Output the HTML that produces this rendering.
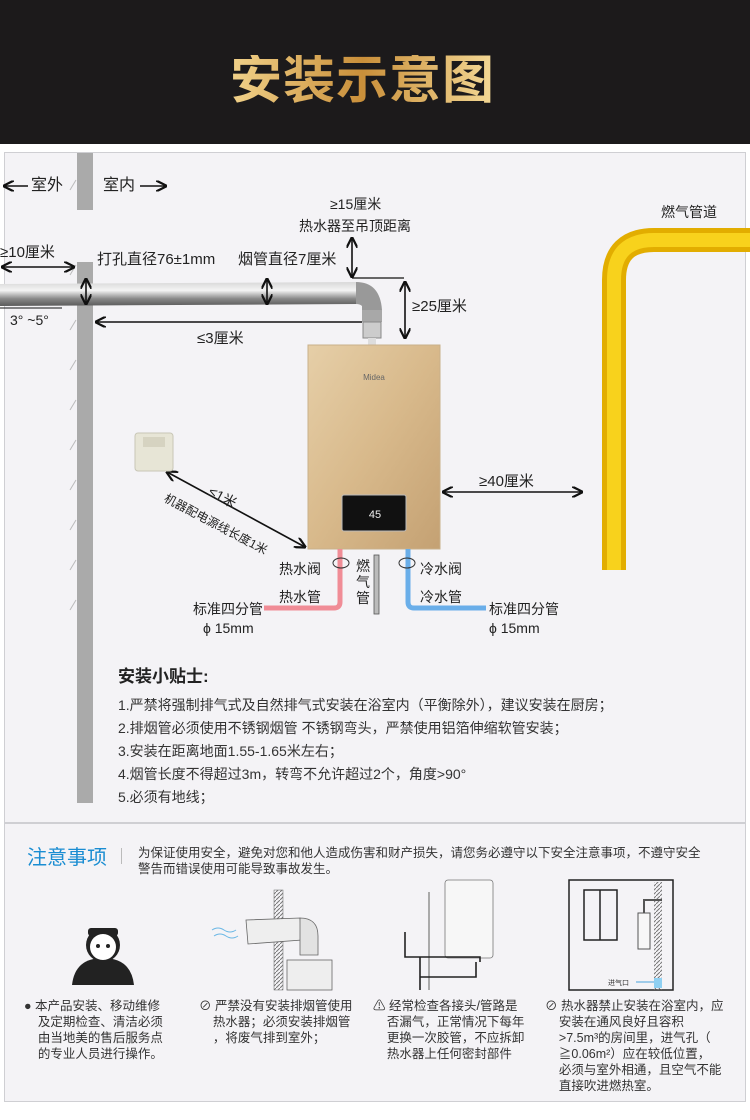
<!DOCTYPE html>
<html><head><meta charset="utf-8">
<style>
*{margin:0;padding:0;box-sizing:border-box}
body{width:750px;height:1120px;background:#fff;position:relative;overflow:hidden;font-family:"Liberation Sans","Noto Sans CJK SC",sans-serif;color:#222}
.t{position:absolute;white-space:nowrap;line-height:1}
</style></head><body>
<div style="position:absolute;left:0;top:0;width:750px;height:144px;background:#1c1a1b"></div>
<div class="t" style="left:230px;top:55px;font-size:52px;font-weight:bold;letter-spacing:1px;background:linear-gradient(90deg,#f1d28a,#c98f3a 50%,#f4d996);-webkit-background-clip:text;color:transparent">安装示意图</div>
<div style="position:absolute;left:4px;top:152px;width:742px;height:671px;background:#f4f3f6;border:1px solid #cfcfd3"></div>
<div style="position:absolute;left:4px;top:823px;width:742px;height:279px;background:#f4f3f6;border:1px solid #cfcfd3"></div>

<svg style="position:absolute;left:0;top:0" width="750" height="1120">
<defs>
<linearGradient id="pipe" x1="0" y1="0" x2="0" y2="1"><stop offset="0" stop-color="#d8d8d8"/><stop offset=".35" stop-color="#f4f4f4"/><stop offset=".7" stop-color="#888"/><stop offset="1" stop-color="#5a5a5a"/></linearGradient>
<linearGradient id="gold" x1="0" y1="0" x2="1" y2="1"><stop offset="0" stop-color="#e6cfa8"/><stop offset=".5" stop-color="#d8b98b"/><stop offset="1" stop-color="#c4a173"/></linearGradient>
<marker id="a" viewBox="0 0 10 10" refX="9" refY="5" markerWidth="7" markerHeight="7" orient="auto-start-reverse"><path d="M0,0L10,5L0,10" fill="none" stroke="#111" stroke-width="2"/></marker>
<pattern id="hatch" width="4" height="4" patternUnits="userSpaceOnUse"><path d="M0,4L4,0" stroke="#777" stroke-width="1"/></pattern>
</defs>
<rect x="77" y="153" width="16" height="57" fill="#aaa"/>
<rect x="77" y="262" width="16" height="22" fill="#aaa"/>
<rect x="77" y="304" width="16" height="499" fill="#aaa"/>
<g stroke="#bbb" stroke-width="1">
<line x1="70" y1="190" x2="76" y2="180"/><line x1="70" y1="275" x2="76" y2="265"/><line x1="70" y1="330" x2="76" y2="320"/><line x1="70" y1="370" x2="76" y2="360"/><line x1="70" y1="410" x2="76" y2="400"/><line x1="70" y1="450" x2="76" y2="440"/><line x1="70" y1="490" x2="76" y2="480"/><line x1="70" y1="530" x2="76" y2="520"/><line x1="70" y1="570" x2="76" y2="560"/><line x1="70" y1="610" x2="76" y2="600"/>
</g>
<path d="M0,284 L358,282 L358,304 L0,306Z" fill="url(#pipe)"/>
<path d="M356,282 Q380,282 382,310 L382,322 L362,322 L362,306 Q360,304 356,304Z" fill="#999"/>
<rect x="362" y="310" width="20" height="12" fill="#a8a8a8"/>
<rect x="363" y="322" width="18" height="16" fill="#ccc" stroke="#888"/>
<rect x="368" y="338" width="8" height="8" fill="#ddd"/>
<line x1="0" y1="308" x2="62" y2="308" stroke="#111"/>
<g stroke="#111" stroke-width="1.6" fill="none">
<line x1="4" y1="186" x2="28" y2="186" marker-start="url(#a)"/>
<line x1="140" y1="186" x2="166" y2="186" marker-end="url(#a)"/>
<line x1="2" y1="267" x2="74" y2="267" marker-start="url(#a)" marker-end="url(#a)"/>
<line x1="86" y1="279" x2="86" y2="304" marker-start="url(#a)" marker-end="url(#a)"/>
<line x1="267" y1="279" x2="267" y2="304" marker-start="url(#a)" marker-end="url(#a)"/>
<line x1="352" y1="238" x2="352" y2="277" marker-start="url(#a)" marker-end="url(#a)"/>
<line x1="405" y1="282" x2="405" y2="338" marker-start="url(#a)" marker-end="url(#a)"/>
<line x1="96" y1="322" x2="362" y2="322" marker-start="url(#a)"/>
<line x1="443" y1="492" x2="582" y2="492" marker-start="url(#a)" marker-end="url(#a)"/>
<line x1="167" y1="472" x2="305" y2="547" marker-start="url(#a)" marker-end="url(#a)"/>
</g>
<line x1="352" y1="278" x2="404" y2="278" stroke="#111" stroke-width="1.2"/>
<rect x="308" y="345" width="132" height="204" fill="url(#gold)" stroke="#c9b08a"/>
<text x="374" y="380" font-size="8" fill="#666" text-anchor="middle" font-family="Liberation Sans">Midea</text>
<rect x="342" y="495" width="64" height="36" rx="2" fill="#111" stroke="#bbb"/>
<text x="375" y="518" font-size="11" fill="#eee" text-anchor="middle">45</text>
<rect x="135" y="433" width="38" height="38" rx="3" fill="#e7e5d6" stroke="#c8c6b6"/>
<rect x="143" y="437" width="22" height="10" fill="#d6d3c1"/>
<path d="M340,549 L340,602 Q340,608 334,608 L264,608" fill="none" stroke="#f08c96" stroke-width="5"/>
<path d="M408,549 L408,602 Q408,608 414,608 L486,608" fill="none" stroke="#6aaee9" stroke-width="5"/>
<ellipse cx="341" cy="563" rx="8" ry="5" fill="none" stroke="#333"/>
<ellipse cx="407" cy="563" rx="8" ry="5" fill="none" stroke="#333"/>
<rect x="374" y="555" width="5" height="59" fill="#bbb" stroke="#555" stroke-width=".8"/>
<path d="M614,570 L614,280 Q614,240 654,240 L750,240" fill="none" stroke="#e2ad00" stroke-width="24"/>
<path d="M614,570 L614,280 Q614,240 654,240 L750,240" fill="none" stroke="#f8d21c" stroke-width="14"/>
<g fill="#222">
<circle cx="103" cy="945" r="17"/>
<path d="M72,985 Q75,958 103,958 Q131,958 134,985Z"/>
<rect x="88" y="928" width="30" height="8" rx="3"/>
</g>
<circle cx="103" cy="947" r="13" fill="#fff"/>
<circle cx="98" cy="946" r="2" fill="#222"/><circle cx="108" cy="946" r="2" fill="#222"/>
<rect x="274" y="890" width="9" height="100" fill="url(#hatch)" stroke="#666" stroke-width=".5"/>
<path d="M246,920 L300,918 L302,940 L248,944Z" fill="#eee" stroke="#666" stroke-width=".8"/>
<path d="M300,918 Q318,918 318,936 L318,955 L300,955Z" fill="#e2e2e2" stroke="#666" stroke-width=".8"/>
<rect x="287" y="960" width="45" height="30" fill="#eee" stroke="#666" stroke-width=".8"/>
<path d="M212,930 q6,-4 12,0 t12,0 M214,936 q6,-4 12,0 t12,0" stroke="#6ab7e5" fill="none"/>
<rect x="445" y="880" width="48" height="78" rx="3" fill="#f7f7f7" stroke="#777" stroke-width=".8"/>
<line x1="429" y1="892" x2="429" y2="990" stroke="#aaa" stroke-width="2"/>
<path d="M405,932 L405,957 L480,957 L480,962 M420,957 L420,990 M420,977 L476,977 L476,962" fill="none" stroke="#222" stroke-width="1.6"/>
<rect x="569" y="880" width="104" height="110" fill="none" stroke="#222" stroke-width="1.5"/>
<rect x="584" y="890" width="33" height="50" fill="none" stroke="#222" stroke-width="1.5"/>
<line x1="600" y1="890" x2="600" y2="940" stroke="#222" stroke-width="1.5"/>
<rect x="654" y="882" width="8" height="108" fill="url(#hatch)"/>
<rect x="638" y="913" width="12" height="36" fill="#f7f7f7" stroke="#555"/>
<path d="M644,913 L644,900 L662,900" fill="none" stroke="#555" stroke-width="2"/>
<rect x="654" y="978" width="8" height="10" fill="#8fd0f2"/>
<line x1="636" y1="982" x2="654" y2="982" stroke="#4aa3dc"/>
<text x="608" y="985" font-size="7" fill="#333" font-family="Noto Sans CJK SC">进气口</text>
</svg>

<div class="t" style="left:31px;top:178px;font-size:16px">室外</div>
<div class="t" style="left:103px;top:178px;font-size:16px">室内</div>
<div class="t" style="left:330px;top:197px;font-size:14px">≥15厘米</div>
<div class="t" style="left:299px;top:219px;font-size:14px">热水器至吊顶距离</div>
<div class="t" style="left:661px;top:205px;font-size:14px">燃气管道</div>
<div class="t" style="left:0px;top:245px;font-size:15px">≥10厘米</div>
<div class="t" style="left:97px;top:252px;font-size:15px">打孔直径76±1mm</div>
<div class="t" style="left:238px;top:252px;font-size:15px">烟管直径7厘米</div>
<div class="t" style="left:412px;top:299px;font-size:15px">≥25厘米</div>
<div class="t" style="left:10px;top:313px;font-size:14px">3°&nbsp;~5°</div>
<div class="t" style="left:197px;top:331px;font-size:15px">≤3厘米</div>
<div class="t" style="left:479px;top:474px;font-size:15px">≥40厘米</div>
<div class="t" style="left:213px;top:484px;font-size:14px;transform:rotate(28deg);transform-origin:left top">≤1米</div>
<div class="t" style="left:168px;top:492px;font-size:12px;transform:rotate(28deg);transform-origin:left top">机器配电源线长度1米</div>
<div class="t" style="left:279px;top:562px;font-size:14px">热水阀</div>
<div class="t" style="left:279px;top:590px;font-size:14px">热水管</div>
<div class="t" style="left:420px;top:562px;font-size:14px">冷水阀</div>
<div class="t" style="left:420px;top:590px;font-size:14px">冷水管</div>
<div class="t" style="left:356px;top:558px;font-size:14px;width:16px;white-space:normal;line-height:16px">燃气管</div>
<div class="t" style="left:193px;top:602px;font-size:14px">标准四分管</div>
<div class="t" style="left:203px;top:621px;font-size:14px">ϕ 15mm</div>
<div class="t" style="left:489px;top:602px;font-size:14px">标准四分管</div>
<div class="t" style="left:489px;top:621px;font-size:14px">ϕ 15mm</div>

<div class="t" style="left:118px;top:668px;font-size:17px;font-weight:bold">安装小贴士:</div>
<div style="position:absolute;left:118px;top:694px;font-size:14px;line-height:23px;color:#333;white-space:nowrap">
1.严禁将强制排气式及自然排气式安装在浴室内（平衡除外），建议安装在厨房；<br>
2.排烟管必须使用不锈钢烟管 不锈钢弯头，严禁使用铝箔伸缩软管安装；<br>
3.安装在距离地面1.55-1.65米左右；<br>
4.烟管长度不得超过3m，转弯不允许超过2个，角度&gt;90°<br>
5.必须有地线；</div>

<div class="t" style="left:27px;top:848px;font-size:20px;color:#1a8dd2">注意事项</div>
<div style="position:absolute;left:121px;top:848px;width:1px;height:16px;background:#bbb"></div>
<div style="position:absolute;left:138px;top:845px;width:590px;font-size:12.5px;line-height:16px;color:#333">为保证使用安全，避免对您和他人造成伤害和财产损失，请您务必遵守以下安全注意事项，不遵守安全<br>警告而错误使用可能导致事故发生。</div>

<div style="position:absolute;left:24px;top:998px;font-size:12.5px;line-height:16px;color:#333;white-space:nowrap">● 本产品安装、移动维修<br>&nbsp;&nbsp;&nbsp;&nbsp;及定期检查、清洁必须<br>&nbsp;&nbsp;&nbsp;&nbsp;由当地美的售后服务点<br>&nbsp;&nbsp;&nbsp;&nbsp;的专业人员进行操作。</div>
<div style="position:absolute;left:199px;top:998px;font-size:12.5px;line-height:16px;color:#333;white-space:nowrap">⊘ 严禁没有安装排烟管使用<br>&nbsp;&nbsp;&nbsp;&nbsp;热水器；必须安装排烟管<br>&nbsp;&nbsp;&nbsp;&nbsp;，将废气排到室外；</div>
<div style="position:absolute;left:373px;top:998px;font-size:12.5px;line-height:16px;color:#333;white-space:nowrap">⚠ 经常检查各接头/管路是<br>&nbsp;&nbsp;&nbsp;&nbsp;否漏气，正常情况下每年<br>&nbsp;&nbsp;&nbsp;&nbsp;更换一次胶管，不应拆卸<br>&nbsp;&nbsp;&nbsp;&nbsp;热水器上任何密封部件</div>
<div style="position:absolute;left:545px;top:998px;font-size:12.5px;line-height:16px;color:#333;white-space:nowrap">⊘ 热水器禁止安装在浴室内，应<br>&nbsp;&nbsp;&nbsp;&nbsp;安装在通风良好且容积<br>&nbsp;&nbsp;&nbsp;&nbsp;&gt;7.5m³的房间里，进气孔（<br>&nbsp;&nbsp;&nbsp;&nbsp;≧0.06m²）应在较低位置，<br>&nbsp;&nbsp;&nbsp;&nbsp;必须与室外相通，且空气不能<br>&nbsp;&nbsp;&nbsp;&nbsp;直接吹进燃热室。</div>
</body></html>
